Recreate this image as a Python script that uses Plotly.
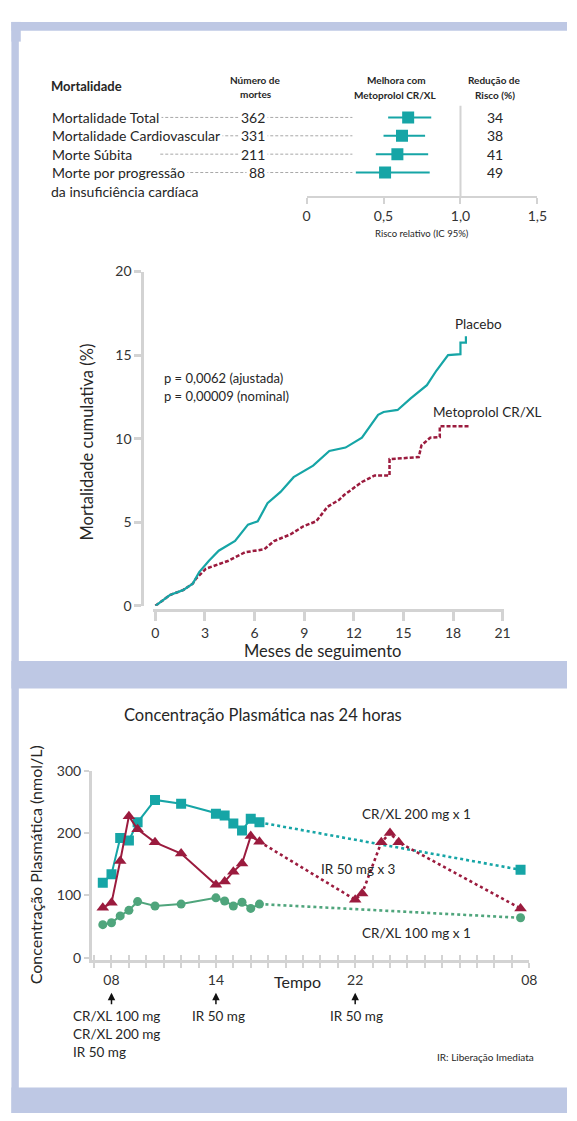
import plotly.graph_objects as go

# page body has an 8px margin: the figure is placed at (8, 8) in the 577x1121 window
OFF = 8
W, H = 577 - OFF, 1121 - OFF
def px(x): return (x - OFF) / W
def py(y): return 1 - (y - OFF) / H

FONT = "Lato"
TXT = "#262626"
TEAL = "#16A5A6"
RED = "#9B1B3E"
GREEN = "#4FA57C"
GRID = "#D3D3D3"
FRAME = "#BEC8E4"

# ---------------- data: forest plot ----------------
outcomes = ["Mortalidade Total", "Mortalidade Cardiovascular", "Morte Súbita", "Morte por progressão"]
outcome_line2 = ["", "", "", "da insuficiência cardíaca"]
deaths = [362, 331, 211, 88]
rr = [0.66, 0.62, 0.59, 0.51]
rr_lo = [0.53, 0.50, 0.45, 0.32]
rr_hi = [0.81, 0.77, 0.79, 0.80]
risk_reduction = [34, 38, 41, 49]
rr_ticks = [0, 0.5, 1.0, 1.5]
rr_ticktext = ["0", "0,5", "1,0", "1,5"]

# ---------------- data: Kaplan-Meier (corners included) ----------------
placebo_m = [0, 0.88, 1.67, 2.26, 2.65, 3.24, 3.83, 4.82, 5.6, 6.19, 6.78, 7.57, 8.36, 9.54,
             10.52, 11.5, 12.49, 13.47, 13.8, 14.65, 15.44, 16.42, 17.0, 17.7, 18.45, 18.45,
             18.78, 18.78]
placebo_pct = [0, 0.65, 0.94, 1.33, 2.02, 2.7, 3.3, 3.88, 4.86, 5.06, 6.14, 6.82, 7.7, 8.39,
               9.27, 9.47, 10.06, 11.43, 11.6, 11.72, 12.41, 13.2, 14.08, 15.0, 15.06, 15.75,
               15.75, 16.13]
meto_m = [0, 0.88, 1.67, 2.26, 2.46, 3.05, 4.42, 5.41, 6.59, 7.18, 8.16, 8.95, 9.73, 10.1,
          10.42, 11.1, 11.41, 12.49, 13.27, 14.16, 14.16, 15.93, 16.09, 16.62, 17.2, 17.2, 19.0]
meto_pct = [0, 0.65, 0.94, 1.33, 1.63, 2.22, 2.7, 3.2, 3.39, 3.88, 4.27, 4.76, 5.06, 5.55,
            5.94, 6.33, 6.63, 7.41, 7.8, 7.8, 8.78, 8.9, 9.6, 10.06, 10.1, 10.75, 10.75]
km_xticks = [0, 3, 6, 9, 12, 15, 18, 21]
km_yticks = [0, 5, 10, 15, 20]

# ---------------- data: plasma concentration ----------------
hours_day = [7.5, 8, 8.5, 9, 9.5, 10.5, 12, 14, 14.5, 15, 15.5, 16, 16.5]
crxl200_day = [120, 134, 192, 188, 217, 253, 247, 231, 228, 215, 204, 223, 217]
ir50_day = [80, 88, 155, 227, 206, 185, 167, 117, 122, 138, 151, 195, 186]
crxl100_day = [53, 56, 67, 76, 90, 83, 86, 96, 91, 83, 89, 79, 86]
hours_tail_cr = [16.5, 31.5]
crxl200_tail = [217, 141]
crxl100_tail = [86, 64]
hours_tail_ir = [16.5, 22, 22.4, 23.5, 24, 24.5, 31.5]
ir50_tail = [186, 93, 103, 185, 200, 185, 79]
time_ticks = list(range(7, 33))
time_labels = {8: "08", 14: "14", 22: "22", 32: "08"}
conc_ticks = [0, 100, 200, 300]
dose_hours = [8, 14, 22]

MSIZE = {"circle": 9, "square": 10, "triangle-up": 11}

fig = go.Figure()

# ---------- forest ----------
fig.add_trace(go.Scatter(
    x=rr, y=[1, 2, 3, 4], mode="markers", xaxis="x", yaxis="y",
    marker=dict(symbol="square", size=12, color=TEAL),
    error_x=dict(type="data", symmetric=False,
                 array=[h - r for h, r in zip(rr_hi, rr)],
                 arrayminus=[r - l for r, l in zip(rr, rr_lo)],
                 thickness=2, width=0, color=TEAL),
    showlegend=False, hoverinfo="skip"))

# ---------- KM ----------
fig.add_trace(go.Scatter(x=meto_m, y=meto_pct, mode="lines",
                         xaxis="x2", yaxis="y2",
                         line=dict(color=RED, width=2.5, dash="4px,2px"), showlegend=False))
fig.add_trace(go.Scatter(x=placebo_m, y=placebo_pct, mode="lines",
                         xaxis="x2", yaxis="y2",
                         line=dict(color=TEAL, width=2.2), showlegend=False))

# ---------- plasma ----------
def tail(xs, ys, color, sym):
    fig.add_trace(go.Scatter(x=xs, y=ys, mode="lines", xaxis="x3", yaxis="y3",
                             line=dict(color=color, width=2.6, dash="dot"),
                             showlegend=False, hoverinfo="skip"))
    fig.add_trace(go.Scatter(x=xs[1:], y=ys[1:], mode="markers", xaxis="x3", yaxis="y3",
                             marker=dict(symbol=sym, size=MSIZE[sym], color=color),
                             showlegend=False))

def day(xs, ys, color, sym):
    fig.add_trace(go.Scatter(x=xs, y=ys, mode="lines+markers", xaxis="x3", yaxis="y3",
                             line=dict(color=color, width=2),
                             marker=dict(symbol=sym, size=MSIZE[sym], color=color),
                             showlegend=False))

tail(hours_tail_cr, crxl100_tail, GREEN, "circle")
tail(hours_tail_cr, crxl200_tail, TEAL, "square")
tail(hours_tail_ir, ir50_tail, RED, "triangle-up")
day(hours_day, crxl100_day, GREEN, "circle")
day(hours_day, crxl200_day, TEAL, "square")
day(hours_day, ir50_day, RED, "triangle-up")
fig.add_trace(go.Scatter(x=[7], y=[0], mode="markers", xaxis="x4", yaxis="y3",
                         marker=dict(opacity=0), showlegend=False, hoverinfo="skip"))

tickfont = dict(family=FONT, size=14, color="#333")

fig.update_layout(
    width=W, height=H, margin=dict(l=0, r=0, t=0, b=0),
    paper_bgcolor="white", plot_bgcolor="rgba(0,0,0,0)",
    font=dict(family=FONT, color=TXT),
    xaxis=dict(domain=[px(310), px(546.7)], range=[0, 1.5], anchor="y",
               tickvals=rr_ticks, ticktext=rr_ticktext, showgrid=False, zeroline=False,
               showline=True, linecolor=GRID, linewidth=2, ticks="outside", ticklen=6,
               tickwidth=2, tickcolor=GRID, tickfont=tickfont),
    yaxis=dict(domain=[py(190), py(98)], range=[5.29, 0.357], visible=False, anchor="x"),
    xaxis2=dict(domain=[px(153), px(512)], range=[-0.118, 21.059], anchor="free",
                position=py(610), tickvals=km_xticks, showgrid=False, zeroline=False,
                showline=True, linecolor=GRID, linewidth=3, ticks="outside", ticklen=9,
                tickwidth=2.5, tickcolor=GRID, tickfont=tickfont),
    yaxis2=dict(domain=[py(606), py(266.5)], range=[0, 20], anchor="free",
                position=px(141.7), tickvals=km_yticks, showgrid=False, zeroline=False,
                showline=True, linecolor=GRID, linewidth=3, ticks="outside", ticklen=7,
                tickwidth=2.5, tickcolor=GRID, tickfont=tickfont),
    xaxis3=dict(domain=[px(90), px(538.3)], range=[6.879, 32], anchor="y3",
                tickvals=time_ticks, ticktext=[time_labels.get(t, "") for t in time_ticks],
                showgrid=False, zeroline=False, showline=True, linecolor=GRID, linewidth=3,
                ticks="outside", ticklen=5, tickwidth=2, tickcolor=GRID, tickfont=tickfont),
    xaxis4=dict(domain=[px(90), px(538.3)], range=[6.879, 32], anchor="y3", overlaying="x3",
                tickvals=time_ticks, showticklabels=False, showgrid=False, zeroline=False,
                showline=False, ticks="inside", ticklen=5, tickwidth=2, tickcolor=GRID),
    yaxis3=dict(domain=[py(966), py(773.3)], range=[-4.26, 300], anchor="x3",
                tickvals=conc_ticks, showgrid=False, zeroline=False, showline=True,
                linecolor=GRID, linewidth=3, ticks="outside", ticklen=5, tickwidth=2,
                tickcolor=GRID, tickfont=tickfont),
)

shapes = []
for x0, x1, y0, y1 in [(7.4, 577, 13, 22), (7.4, 15, 13, 1121), (7.4, 17, 13, 33),
                       (7.4, 577, 662, 690), (7.4, 577, 1095, 1121)]:
    shapes.append(dict(type="rect", xref="paper", yref="paper", x0=px(x0), x1=px(x1),
                       y0=py(y1), y1=py(y0), fillcolor=FRAME, line=dict(width=0), layer="below"))
shapes.append(dict(type="line", xref="x", yref="y domain", x0=1, x1=1, y0=0, y1=1,
                   line=dict(color=GRID, width=2), layer="below"))
for i in range(len(outcomes)):
    shapes.append(dict(type="line", xref="paper", yref="y", x0=px(160), x1=px(357),
                       y0=i + 1, y1=i + 1, line=dict(color="#A8A8A8", width=1, dash="3px,2px"),
                       layer="below"))

ann = []
def A(text, x, y, size=13, xanchor="center", bold=False, **kw):
    ann.append(dict(text=f"<b>{text}</b>" if bold else text, x=px(x), y=py(y), xref="paper",
                    yref="paper", showarrow=False, xanchor=xanchor, yanchor="middle",
                    font=dict(family=FONT, size=size, color=TXT), **kw))

A("Mortalidade", 46, 78, 13, "left", True)
A("Número de", 257, 71.5, 10, bold=True)
A("mortes", 258, 86.5, 10, bold=True)
A("Melhora com", 402, 71.5, 10, bold=True)
A("Metoprolol CR/XL", 401, 87, 10, bold=True)
A("Redução de", 503, 71.5, 10, bold=True)
A("Risco (%)", 503, 87, 10, bold=True)
A("Risco relativo (IC 95%)", 428, 228, 9.5)
ROWF = 14
for i, (name, n, red) in enumerate(zip(outcomes, deaths, risk_reduction)):
    ann.append(dict(text=name, x=px(46), y=i + 1, xref="paper", yref="y", showarrow=False,
                    xanchor="left", yanchor="middle", bgcolor="white", borderpad=2,
                    font=dict(family=FONT, size=ROWF, color=TXT)))
    if outcome_line2[i]:
        ann.append(dict(text=outcome_line2[i], x=px(46), y=i + 1, yshift=-19, xref="paper",
                        yref="y", showarrow=False, xanchor="left", yanchor="middle",
                        font=dict(family=FONT, size=ROWF, color=TXT)))
    ann.append(dict(text=str(n), x=px(270), y=i + 1, xref="paper", yref="y", showarrow=False,
                    xanchor="right", yanchor="middle", bgcolor="white", borderpad=2,
                    font=dict(family=FONT, size=ROWF, color=TXT)))
    ann.append(dict(text=str(red), x=px(503), y=i + 1, xref="paper", yref="y", showarrow=False,
                    xanchor="center", yanchor="middle", font=dict(family=FONT, size=ROWF, color=TXT)))

A("p = 0,0062 (ajustada)", 161.7, 375, 13, "left")
A("p = 0,00009 (nominal)", 161.7, 393, 13, "left")
A("Placebo", 460, 320, 13.5, "left")
A("Metoprolol CR/XL", 438, 409, 13.5, "left")
A("Meses de seguimento", 326, 652, 16.5)
A("Mortalidade cumulativa (%)", 85, 440, 16.5, textangle=-90)

A("Concentração Plasmática nas 24 horas", 265, 717, 16.5)
A("Concentração Plasmática (nmol/L)", 32, 869, 16, textangle=-90)
A("CR/XL 200 mg x 1", 422.5, 817, 13.5)
A("IR 50 mg x 3", 363.7, 873, 13.5)
A("CR/XL 100 mg x 1", 422.5, 938, 13.5)
A("Tempo", 301, 987, 16)
A("CR/XL 100 mg", 68, 1023, 13.5, "left")
A("CR/XL 200 mg", 68, 1041, 13.5, "left")
A("IR 50 mg", 68, 1059, 13.5, "left")
A("IR 50 mg", 190.5, 1023, 13.5, "left")
A("IR 50 mg", 332, 1023, 13.5, "left")
A("IR: Liberação Imediata", 545, 1064, 10, "right")
for h in dose_hours:
    ann.append(dict(text="", x=h, y=py(999), xref="x3", yref="paper", showarrow=True,
                    ax=0, ay=13, arrowhead=2, arrowsize=1, arrowwidth=1.5, arrowcolor="#111"))

fig.update_layout(shapes=shapes, annotations=ann)
fig.write_html("out.html")
